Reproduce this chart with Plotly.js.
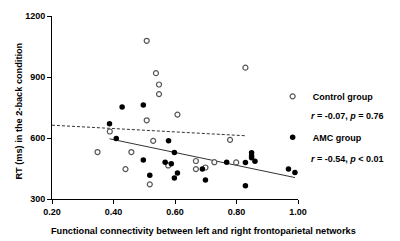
<!DOCTYPE html>
<html><head><meta charset="utf-8">
<script src="https://cdn.plot.ly/plotly-3.0.1.min.js"></script>
<style>html,body{margin:0;padding:0;background:#fff}#chart{width:400px;height:241px}</style>
</head><body><div id="chart"></div>
<script>
// Control group (open circles)
const controlX = [0.508, 0.538, 0.548, 0.548, 0.608, 0.508, 0.829, 0.388, 0.348, 0.458,
                  0.439, 0.529, 0.578, 0.518, 0.668, 0.668, 0.699, 0.728, 0.799, 0.779];
const controlY = [1078, 919, 863, 816, 715, 687, 946, 632, 531, 531,
                  447, 586, 465, 372, 487, 447, 455, 481, 480, 591];
// AMC group (filled circles)
const amcX = [0.428, 0.497, 0.387, 0.409, 0.579, 0.598, 0.497, 0.568, 0.588, 0.518, 0.608, 0.598,
              0.689, 0.699, 0.768, 0.829, 0.849, 0.849, 0.849, 0.860, 0.829, 0.969, 0.990];
const amcY = [753, 762, 670, 597, 586, 529, 492, 481, 473, 417, 428, 403,
              447, 394, 481, 480, 527, 513, 503, 486, 365, 447, 430];
// regression lines [control, AMC]
const fitSlope = [-82.5, -316];
const fitIntercept = [679.5, 718.3];
const fitXStart = [0.2, 0.387];
const fitXEnd = [0.83, 0.99];

const xTickVals = [0.2, 0.4, 0.6, 0.8, 1.0];
const xTickText = ['0.20', '0.40', '0.60', '0.80', '1.00'];
const yTickVals = [300, 600, 900, 1200];
const yTickText = ['300', '600', '900', '1200'];
const groupNames = ['Control group', 'AMC group'];
const statsText = ['<i>r</i> = -0.07, <i>p</i> = 0.76', '<i>r</i> = -0.54, <i>p</i> &lt; 0.01'];
const xTitle = 'Functional connectivity between left and right frontoparietal networks';
const yTitle = 'RT (ms) in the 2-back condition';

const FONT = 'Liberation Sans, Arial, sans-serif';

function fitLine(i) {
  const xs = [fitXStart[i], fitXEnd[i]];
  return { x: xs, y: xs.map(v => fitIntercept[i] + fitSlope[i] * v) };
}

const l0 = fitLine(0), l1 = fitLine(1);
const traces = [
  { x: l0.x, y: l0.y, mode: 'lines', line: { color: '#333', width: 1, dash: '3px,2px' },
    showlegend: false, hoverinfo: 'skip' },
  { x: l1.x, y: l1.y, mode: 'lines', line: { color: '#333', width: 1 },
    showlegend: false, hoverinfo: 'skip' },
  { x: controlX, y: controlY, mode: 'markers', name: groupNames[0], legend: 'legend',
    marker: { symbol: 'circle', size: 5, color: '#fff', line: { color: '#555', width: 1.2 } } },
  { x: amcX, y: amcY, mode: 'markers', name: groupNames[1], legend: 'legend2',
    marker: { symbol: 'circle', size: 5.5, color: '#000', line: { color: '#000', width: 0 } } }
];

const axisCommon = {
  showgrid: false, zeroline: false, showline: true, linecolor: '#000', linewidth: 1,
  ticks: 'outside', ticklen: 4, tickwidth: 1, tickcolor: '#000',
  tickfont: { family: FONT, size: 9, color: '#000', weight: 'bold' }
};

const legendCommon = {
  xref: 'paper', yref: 'paper', xanchor: 'left', yanchor: 'middle',
  bgcolor: 'rgba(0,0,0,0)', borderwidth: 0, itemwidth: 30,
  font: { family: FONT, size: 9, color: '#000', weight: 'bold' }
};

const layout = {
  width: 400, height: 241,
  margin: { l: 52, r: 102, t: 16, b: 42 },
  paper_bgcolor: '#fff', plot_bgcolor: '#fff',
  showlegend: true,
  xaxis: Object.assign({}, axisCommon, {
    range: [0.2, 1.0], tickvals: xTickVals, ticktext: xTickText
  }),
  yaxis: Object.assign({}, axisCommon, {
    range: [300, 1200], tickvals: yTickVals, ticktext: yTickText
  }),
  legend: Object.assign({}, legendCommon, { x: 0.897, y: 0.561 }),
  legend2: Object.assign({}, legendCommon, { x: 0.897, y: 0.337 }),
  annotations: [
    { text: statsText[0], xref: 'paper', yref: 'paper', x: 1.045, y: 0.455,
      xanchor: 'left', yanchor: 'middle', showarrow: false,
      font: { family: FONT, size: 9, color: '#000', weight: 'bold' } },
    { text: statsText[1], xref: 'paper', yref: 'paper', x: 1.045, y: 0.219,
      xanchor: 'left', yanchor: 'middle', showarrow: false,
      font: { family: FONT, size: 9, color: '#000', weight: 'bold' } },
    { text: xTitle, xref: 'paper', yref: 'paper', x: 0.614, y: -0.173,
      xanchor: 'center', yanchor: 'middle', showarrow: false,
      font: { family: FONT, size: 9.2, color: '#000', weight: 'bold' } },
    { text: yTitle, xref: 'paper', yref: 'paper', x: -0.138, y: 0.478, textangle: -90,
      xanchor: 'center', yanchor: 'middle', showarrow: false,
      font: { family: FONT, size: 9.2, color: '#000', weight: 'bold' } }
  ]
};

Plotly.newPlot('chart', traces, layout, { displayModeBar: false, staticPlot: true });
</script>
</body></html>
